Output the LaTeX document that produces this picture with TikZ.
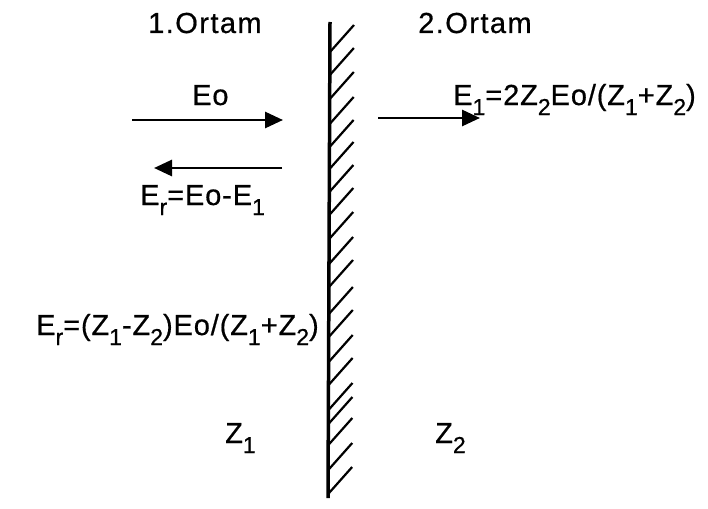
\documentclass[tikz,border=0pt]{standalone}
\usepackage{fontspec}
\setmainfont{Liberation Sans}[LetterSpace=3,FakeBold=0.6]
\usetikzlibrary{arrows.meta}
\newcommand{\sbs}[1]{\raisebox{-10pt}{\fontsize{23}{23}\selectfont #1}}
\begin{document}
\begin{tikzpicture}[x=1pt,y=-1pt,
  lbl/.style={anchor=base west,inner sep=0pt,font=\fontsize{29}{30}\selectfont},
  hdr/.style={anchor=base west,inner sep=0pt,font=\fontsize{29}{30}\selectfont\addfontfeature{LetterSpace=5}},
  wave/.style={line width=2.8pt,-{Triangle[length=18pt,width=16pt]}},
  hatch/.style={line width=2.2pt}]
\useasboundingbox (0,0) rectangle (708,508);
% wall
\coordinate (wtop) at (330,22);
\coordinate (wbot) at (328,498);
\draw[line width=3.5pt] (wtop) -- (wbot);
\foreach \y in {25,48,72,97,120,142,165,188,212,237,260,287,310,335,358,383,397,418,443,467}{
  \draw[hatch] ({330-(\y-22)*2/476},{\y+27}) -- ++(24,-27);
}
% headers
\node[hdr] (m1) at (148,33) {1.Ortam};
\node[hdr] (m2) at (418,33) {2.Ortam};
% arrows
\coordinate (a1s) at (132,120); \coordinate (a1e) at (283,120);
\coordinate (a2s) at (282,168); \coordinate (a2e) at (154,168);
\coordinate (a3s) at (378,118); \coordinate (a3e) at (480,118);
\draw[wave] (a1s) -- (a1e);
\draw[wave] (a2s) -- (a2e);
\draw[wave] (a3s) -- (a3e);
% labels
\node[lbl] (eo) at (192,105) {Eo};
\node[lbl] (er) at (140,205) {E\sbs{r}=Eo-E\sbs{1}};
\node[lbl] (e1) at (453,105) {E\sbs{1}=2Z\sbs{2}Eo/(Z\sbs{1}+Z\sbs{2})};
\node[lbl] (er2) at (36,335) {E\sbs{r}=(Z\sbs{1}-Z\sbs{2})Eo/(Z\sbs{1}+Z\sbs{2})};
\node[lbl] (z1) at (225,443) {Z\sbs{1}};
\node[lbl] (z2) at (435,443) {Z\sbs{2}};
\end{tikzpicture}
\end{document}
